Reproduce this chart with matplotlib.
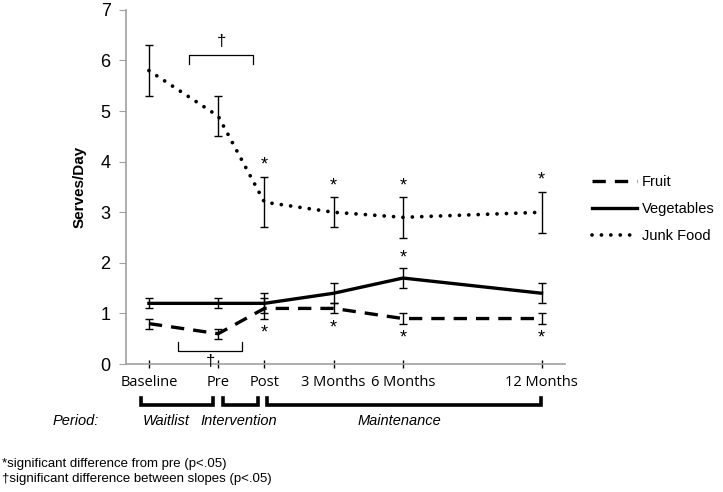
import numpy as np
import matplotlib.pyplot as plt

# ── Data ──
labels = ['Baseline', 'Pre', 'Post', '3 Months', '6 Months', '12 Months']
months = [-5, -2, 0, 3, 6, 12]

fruit = [0.8, 0.6, 1.1, 1.1, 0.9, 0.9]
fruit_err = [0.1, 0.1, 0.2, 0.1, 0.1, 0.1]
veg = [1.2, 1.2, 1.2, 1.4, 1.7, 1.4]
veg_err = [0.1, 0.1, 0.2, 0.2, 0.2, 0.2]
junk = [5.8, 4.9, 3.2, 3.0, 2.9, 3.0]
junk_err = [0.5, 0.4, 0.5, 0.3, 0.4, 0.4]

# significance markers (index of time point)
junk_sig = [2, 3, 4, 5]
veg_sig = [4]
fruit_sig = [2, 3, 4, 5]

periods = ['Waitlist', 'Intervention', 'Maintenance']
period_spans = [(-5.35, -2.22), (-1.78, -0.26), (0.13, 11.96)]
period_label_x = [-4.26, -1.09, 5.83]

SANS = ['Liberation Sans', 'DejaVu Sans']
TICKFONT = ['Open Sans', 'DejaVu Sans']

fig = plt.figure(figsize=(7.23, 4.92), dpi=100)
ax = fig.add_axes([0.174, 0.260, 0.607, 0.72])

kw = dict(color='black', lw=2.4)
ax.plot(months, fruit, linestyle=(0, (4, 2.7)), dash_capstyle='butt', label='Fruit', **kw)
ax.plot(months, veg, linestyle='-', label='Vegetables', **kw)
ax.plot(months, junk, linestyle=(0, (0.01, 2.5)), dash_capstyle='round', label='Junk Food',
        color='black', lw=2.7)

for vals, err in [(fruit, fruit_err), (veg, veg_err), (junk, junk_err)]:
    ax.errorbar(months, vals, yerr=err, fmt='none', ecolor='black',
                elinewidth=1.0, capsize=3, capthick=1.0)

# asterisks
for i in junk_sig:
    ax.text(months[i], junk[i] + junk_err[i] + 0.06, '*', ha='center', va='bottom',
            fontsize=13, family=SANS)
for i in veg_sig:
    ax.text(months[i], veg[i] + veg_err[i] + 0.03, '*', ha='center', va='bottom',
            fontsize=13, family=SANS)
for i in fruit_sig:
    ax.text(months[i], fruit[i] - fruit_err[i] - 0.12, '*', ha='center', va='top',
            fontsize=13, family=SANS)

# slope-difference brackets
ax.plot([-3.26, -3.26, -0.48, -0.48], [5.93, 6.1, 6.1, 5.93], color='black', lw=0.9)
ax.text(-1.87, 6.22, '\u2020', ha='center', va='bottom', fontsize=12, family=SANS)
ax.plot([-3.74, -3.74, -0.96, -0.96], [0.44, 0.26, 0.26, 0.44], color='black', lw=0.9)
ax.text(-2.35, 0.2, '\u2020', ha='center', va='top', fontsize=12, family=SANS)

ax.set_xlim(-6, 13)
ax.set_ylim(0, 7)
ax.set_xticks(months)
ax.set_xticklabels(labels, family=TICKFONT, fontsize=10.5)
ax.set_yticks(range(0, 8))
ax.set_yticklabels([str(v) for v in range(0, 8)], family=SANS, fontsize=13)
ax.set_ylabel('Serves/Day', family=SANS, fontsize=11, fontweight='bold', labelpad=10)
for s in ['top', 'right']:
    ax.spines[s].set_visible(False)
for s in ['left', 'bottom']:
    ax.spines[s].set_color('#a0a0a0')
    ax.spines[s].set_linewidth(1.2)
ax.tick_params(axis='y', length=5, color='#a0a0a0', pad=6)
ax.tick_params(axis='x', direction='inout', length=6, color='black', width=1.0, pad=5)

# period brackets
for (x0, x1), lx, name in zip(period_spans, period_label_x, periods):
    ax.plot([x0, x0, x1, x1], [-0.68, -0.8, -0.8, -0.68], color='black', lw=2.6,
            clip_on=False, solid_joinstyle='miter')
    ax.text(lx, -1.12, name, ha='center', va='center', style='italic',
            family=SANS, fontsize=10.5, clip_on=False)
ax.text(-8.17, -1.12, 'Period:', ha='center', va='center', style='italic',
        family=SANS, fontsize=10.5, clip_on=False)

fig.legend(loc='upper left', bbox_to_anchor=(0.803, 0.668), frameon=False,
           prop={'family': SANS, 'size': 10.5}, handlelength=3.1, labelspacing=0.9,
           handletextpad=0.3, borderpad=0.3)

fig.text(0.003, 0.057, '*significant difference from pre (p<.05)', family=SANS,
         fontsize=9.5, va='center')
fig.text(0.003, 0.026, '\u2020significant difference between slopes (p<.05)', family=SANS,
         fontsize=9.5, va='center')

fig.savefig('out.png', dpi=100)
